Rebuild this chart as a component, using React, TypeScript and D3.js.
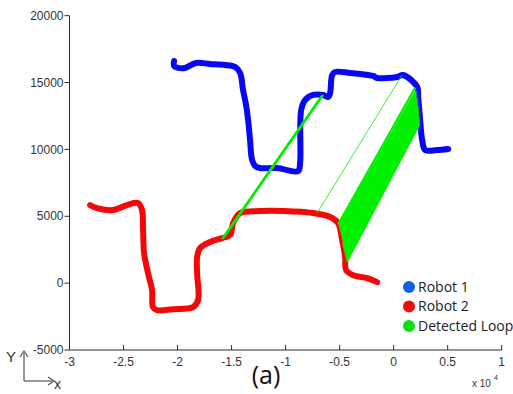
import * as d3 from "d3";

// robot trajectories, x in units of 1e4
const robot1X = [-2.032, -2.032, -1.995, -1.931, -1.829, -1.699, -1.56, -1.468, -1.421, -1.394, -1.366, -1.347, -1.329, -1.31, -1.282, -1.236, -1.079, -0.884, -0.866, -0.856, -0.819, -0.745, -0.653, -0.606, -0.588, -0.569, -0.542, -0.403, -0.19, -0.153, 0.032, 0.088, 0.218, 0.227, 0.245, 0.264, 0.292, 0.403, 0.505];
const robot1Y = [16617, 16243, 16093, 16093, 16467, 16392, 16317, 16168, 15719, 14446, 13323, 12201, 10704, 9207, 8757, 8608, 8608, 8383, 8982, 12949, 13698, 14072, 14072, 13922, 14222, 15569, 15794, 15719, 15494, 15344, 15419, 15569, 14671, 13922, 12201, 10704, 9955, 9955, 10030];

const robot2X = [-2.81, -2.745, -2.597, -2.468, -2.366, -2.329, -2.319, -2.31, -2.273, -2.236, -2.227, -2.19, -2.042, -1.856, -1.81, -1.819, -1.819, -1.792, -1.699, -1.588, -1.514, -1.486, -1.421, -1.236, -1.023, -0.745, -0.588, -0.514, -0.477, -0.449, -0.44, -0.375, -0.245, -0.153];
const robot2Y = [5838, 5614, 5464, 5838, 5988, 5464, 3967, 2246, 749, -524, -1796, -2021, -1946, -1796, -1272, 749, 1946, 2620, 3069, 3368, 3593, 4491, 5240, 5389, 5389, 5240, 4940, 4491, 3219, 1946, 973, 599, 374, 75];

// detected loop closures: robot 2 point -> robot 1 point
const loopX2 = [-1.588, -1.579, -1.569, -0.708, -0.512, -0.505, -0.5, -0.495, -0.49, -0.486, -0.481, -0.477, -0.472, -0.468, -0.468, -0.468, -0.463, -0.458, -0.454, -0.449, -0.444, -0.44, -0.435, -0.433];
const loopY2 = [3293, 3368, 3443, 5240, 4420, 4266, 4116, 3967, 3818, 3668, 3518, 3368, 3219, 3069, 2919, 2769, 2620, 2470, 2321, 2171, 2021, 1871, 1722, 1620];
const loopX1 = [-0.671, -0.662, -0.653, 0.079, 0.2, 0.208, 0.208, 0.208, 0.213, 0.218, 0.218, 0.218, 0.222, 0.227, 0.227, 0.227, 0.227, 0.227, 0.231, 0.236, 0.236, 0.236, 0.236, 0.236];
const loopY1 = [13922, 13997, 14072, 15569, 14620, 14371, 14221, 14072, 13922, 13772, 13622, 13473, 13323, 13174, 13062, 12949, 12800, 12650, 12500, 12350, 12201, 12051, 11938, 11860];
const loopWidth = [2.2, 2.2, 2.2, 0.8, 2.2, 2.2, 2.2, 2.2, 2.2, 2.2, 2.2, 2.2, 2.2, 2.2, 2.2, 2.2, 2.2, 2.2, 2.2, 2.2, 2.2, 2.2, 2.2, 2.2];

const xTicks = [-3, -2.5, -2, -1.5, -1, -0.5, 0, 0.5, 1];
const yTicks = [-5000, 0, 5000, 10000, 15000, 20000];
const legendLabels = ["Robot 1", "Robot 2", "Detected Loop"];
const legendColors = ["#1262e6", "#ee0d0d", "#10dd10"];

export default function App() {
  const W = 513;
  const H = 394;
  const x = d3.scaleLinear().domain([-3, 1]).range([69.5, 501.7]);
  const y = d3.scaleLinear().domain([-5000, 20000]).range([350, 15.7]);

  const line = d3
    .line<[number, number]>()
    .x((d) => x(d[0]))
    .y((d) => y(d[1]))
    .curve(d3.curveCatmullRom);

  const r1 = robot1X.map((v, i) => [v, robot1Y[i]] as [number, number]);
  const r2 = robot2X.map((v, i) => [v, robot2Y[i]] as [number, number]);
  const axisColor = "#2b2b2b";
  const font = "'Liberation Sans', Arial, sans-serif";

  return (
    <svg
      width={W}
      height={H}
      style={{ position: "absolute", left: 0, top: 0, background: "#fff" }}
    >
      {/* axes */}
      <line x1={x(-3)} x2={x(-3)} y1={y(20000)} y2={y(-5000)} stroke={axisColor} />
      <line x1={x(-3)} x2={x(1)} y1={y(-5000)} y2={y(-5000)} stroke={axisColor} />
      {yTicks.map((t) => (
        <g key={"y" + t}>
          <line x1={x(-3) - 5} x2={x(-3)} y1={y(t)} y2={y(t)} stroke={axisColor} />
          <text
            x={x(-3) - 6}
            y={y(t)}
            dy="0.35em"
            textAnchor="end"
            fontSize={12}
            fontFamily={font}
            fill="#333"
          >
            {t}
          </text>
        </g>
      ))}
      {xTicks.map((t) => (
        <g key={"x" + t}>
          <line x1={x(t)} x2={x(t)} y1={y(-5000)} y2={y(-5000) - 5} stroke={axisColor} />
          <text
            x={x(t)}
            y={y(-5000) + 16}
            textAnchor="middle"
            fontSize={12}
            fontFamily={font}
            fill="#333"
          >
            {t}
          </text>
        </g>
      ))}
      <text x={472} y={387} fontSize={10} fontFamily={font} fill="#333">
        x 10
      </text>
      <text x={494} y={380} fontSize={7} fontFamily={font} fill="#333">
        4
      </text>

      {/* trajectories */}
      <path
        d={line(r1) ?? ""}
        fill="none"
        stroke="#0808f2"
        strokeWidth={6}
        strokeLinejoin="round"
        strokeLinecap="round"
      />
      <path
        d={line(r2) ?? ""}
        fill="none"
        stroke="#f20808"
        strokeWidth={6}
        strokeLinejoin="round"
        strokeLinecap="round"
      />
      {loopX2.map((v, i) => (
        <line
          key={"l" + i}
          x1={x(v)}
          y1={y(loopY2[i])}
          x2={x(loopX1[i])}
          y2={y(loopY1[i])}
          stroke="#00f000"
          strokeWidth={loopWidth[i]}
        />
      ))}

      {/* legend */}
      {legendLabels.map((l, i) => (
        <g key={l} transform={`translate(409,${287 + i * 19.5})`}>
          <circle r={6} fill={legendColors[i]} />
          <text
            x={9}
            dy="0.35em"
            fontSize={14}
            fontFamily="'Open Sans', sans-serif"
            fill="#222"
          >
            {l}
          </text>
        </g>
      ))}

      {/* corner frame indicator */}
      <text x={6} y={362} fontSize={15} fontFamily={font} fill="#333">
        Y
      </text>
      <line x1={24} y1={381} x2={24} y2={353} stroke="#555" strokeWidth={1.2} />
      <path d="M20,357 L24,351 L28,357" fill="none" stroke="#555" strokeWidth={1.2} />
      <line x1={24} y1={381} x2={52} y2={381} stroke="#555" strokeWidth={1.2} />
      <path d="M48,377 L54,381 L48,385" fill="none" stroke="#555" strokeWidth={1.2} />
      <text x={54} y={389} fontSize={14} fontFamily={font} fill="#333">
        x
      </text>

      <text
        x={266}
        y={384}
        textAnchor="middle"
        fontSize={25}
        fontFamily="'Open Sans', sans-serif"
        fill="#111"
      >
        (a)
      </text>
    </svg>
  );
}
